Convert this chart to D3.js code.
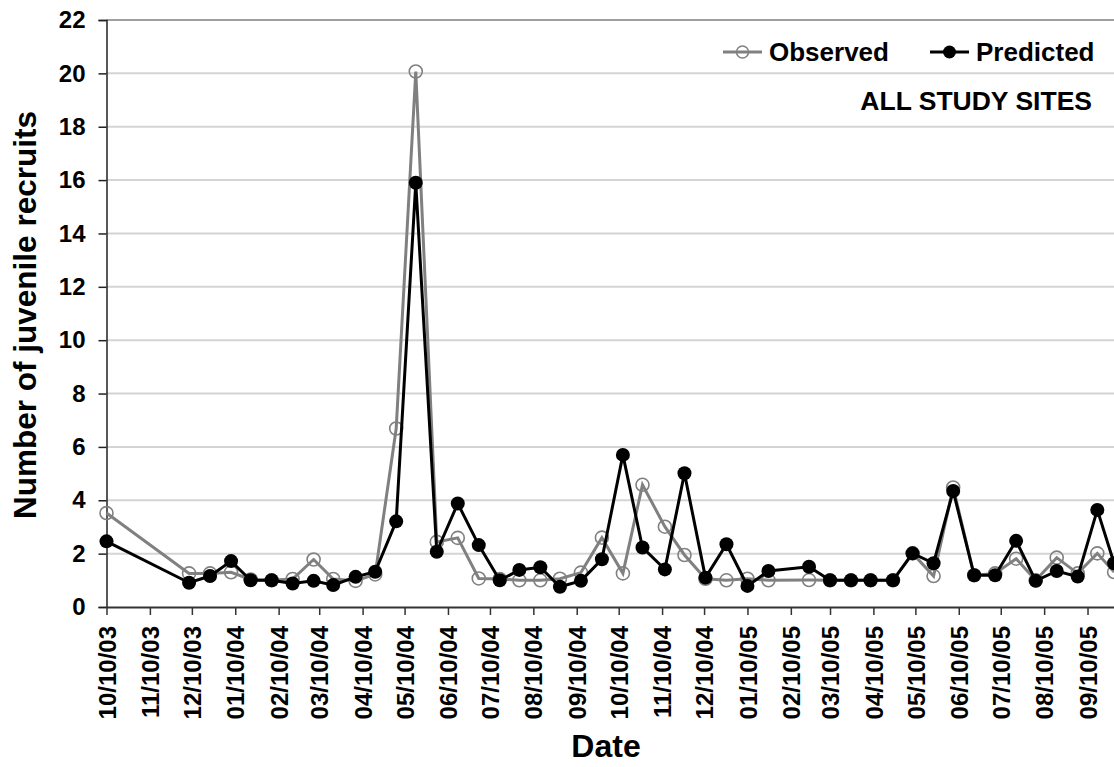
<!DOCTYPE html>
<html>
<head>
<meta charset="utf-8">
<script src="https://cdn.jsdelivr.net/npm/d3@7"></script>
<style>
  html, body { margin: 0; padding: 0; background: #fff; }
  svg { display: block; font-family: "Liberation Sans", Arial, sans-serif; }
</style>
</head>
<body>
<svg id="chart" width="1114" height="767"></svg>
<script>
// Sampling dates (m/d/y) and recruit counts for all study sites
const sampleDates = [
  "10/10/03", "12/08/03", "12/23/03", "01/07/04", "01/21/04", "02/05/04",
  "02/20/04", "03/06/04", "03/20/04", "04/05/04", "04/19/04", "05/04/04",
  "05/18/04", "06/02/04", "06/17/04", "07/02/04", "07/17/04", "07/31/04",
  "08/15/04", "08/29/04", "09/13/04", "09/28/04", "10/13/04", "10/27/04",
  "11/12/04", "11/26/04", "12/11/04", "12/26/04", "01/10/05", "01/25/05",
  "02/23/05", "03/10/05", "03/25/05", "04/08/05", "04/24/05", "05/08/05",
  "05/23/05", "06/06/05", "06/21/05", "07/06/05", "07/21/05", "08/04/05",
  "08/19/05", "09/03/05", "09/17/05", "09/29/05"
];
const observed = [
  3.52, 1.26, 1.26, 1.30, 1.03, 1.00,
  1.05, 1.78, 1.05, 0.98, 1.22, 6.69,
  20.07, 2.44, 2.59, 1.07, 1.05, 1.00,
  1.00, 1.06, 1.29, 2.60, 1.26, 4.58,
  3.01, 1.95, 1.06, 1.00, 1.06, 1.00,
  1.01, 1.00, 1.00, 1.00, 1.00, 2.01,
  1.16, 4.48, 1.19, 1.26, 1.81, 1.00,
  1.85, 1.26, 2.01, 1.31
];
const predicted = [
  2.46, 0.91, 1.16, 1.72, 1.00, 1.00,
  0.88, 0.98, 0.82, 1.13, 1.32, 3.21,
  15.90, 2.07, 3.88, 2.32, 1.00, 1.39,
  1.49, 0.76, 0.98, 1.79, 5.70, 2.23,
  1.41, 5.01, 1.10, 2.35, 0.79, 1.35,
  1.51, 1.00, 1.00, 1.00, 1.00, 2.01,
  1.64, 4.35, 1.19, 1.19, 2.48, 0.98,
  1.35, 1.14, 3.64, 1.64
];
const xTickLabels = [
  "10/10/03", "11/10/03", "12/10/03", "01/10/04", "02/10/04", "03/10/04",
  "04/10/04", "05/10/04", "06/10/04", "07/10/04", "08/10/04", "09/10/04",
  "10/10/04", "11/10/04", "12/10/04", "01/10/05", "02/10/05", "03/10/05",
  "04/10/05", "05/10/05", "06/10/05", "07/10/05", "08/10/05", "09/10/05"
];
const yTicks = [0, 2, 4, 6, 8, 10, 12, 14, 16, 18, 20, 22];
const seriesNames = ["Observed", "Predicted"];

(function drawChart() {
  const parse = d3.timeParse("%m/%d/%y");
  const fmt = d3.timeFormat("%m/%d/%y");
  const svg = d3.select("#chart");

  const plotLeft = 106.5, plotTop = 20, plotBottom = 607;
  const x = d3.scaleTime()
    .domain([parse("10/10/03"), parse("10/10/05")])
    .range([plotLeft, 1129.5]);
  const y = d3.scaleLinear().domain([0, 22]).range([plotBottom, plotTop]);

  // Horizontal gridlines
  svg.append("g").selectAll("line")
    .data(yTicks.filter(v => v > 0))
    .join("line")
    .attr("x1", plotLeft).attr("x2", 1114)
    .attr("y1", d => y(d)).attr("y2", d => y(d))
    .attr("stroke", d => d === 22 ? "#a0a0a0" : "#d4d4d4")
    .attr("stroke-width", 2);

  // Y axis
  const yAxis = svg.append("g")
    .attr("transform", `translate(${plotLeft},0)`)
    .call(d3.axisLeft(y).tickValues(yTicks).tickSize(8).tickPadding(13));
  yAxis.select(".domain").attr("stroke", "#222").attr("stroke-width", 1.5);
  yAxis.selectAll(".tick line").attr("stroke", "#222").attr("stroke-width", 1.5);
  yAxis.selectAll(".tick text")
    .attr("font-size", 24).attr("font-weight", "bold").attr("fill", "#000")
    .attr("font-family", "Liberation Sans, Arial, sans-serif");

  // X axis with monthly ticks on the 10th
  const xAxis = svg.append("g")
    .attr("transform", `translate(0,${plotBottom})`)
    .call(d3.axisBottom(x).tickValues(xTickLabels.map(parse)).tickFormat(fmt)
      .tickSize(8).tickSizeOuter(0));
  xAxis.select(".domain").attr("stroke", "#333").attr("stroke-width", 2);
  xAxis.selectAll(".tick line").attr("stroke", "#333").attr("stroke-width", 1.5);
  xAxis.selectAll(".tick text")
    .attr("font-size", 24).attr("font-weight", "bold").attr("fill", "#000")
    .attr("font-family", "Liberation Sans, Arial, sans-serif")
    .attr("text-anchor", "end")
    .attr("transform", "rotate(-90)")
    .attr("x", -19).attr("y", 0).attr("dy", "0.36em");

  // Axis titles
  svg.append("text")
    .attr("transform", "translate(36,315) rotate(-90)")
    .attr("text-anchor", "middle")
    .attr("font-size", 31.5).attr("font-weight", "bold")
    .text("Number of juvenile recruits");
  svg.append("text")
    .attr("x", 606).attr("y", 757)
    .attr("text-anchor", "middle")
    .attr("font-size", 32).attr("font-weight", "bold")
    .text("Date");

  // Series
  const dates = sampleDates.map(parse);
  const obsPts = dates.map((d, i) => [d, observed[i]]);
  const predPts = dates.map((d, i) => [d, predicted[i]]);
  const line = d3.line().x(d => x(d[0])).y(d => y(d[1]));

  const plot = svg.append("g");
  plot.append("path").datum(obsPts)
    .attr("d", line).attr("fill", "none")
    .attr("stroke", "#808080").attr("stroke-width", 3);
  plot.append("g").selectAll("circle").data(obsPts).join("circle")
    .attr("cx", d => x(d[0])).attr("cy", d => y(d[1])).attr("r", 6.5)
    .attr("fill", "none").attr("stroke", "#808080").attr("stroke-width", 1.6);

  plot.append("path").datum(predPts)
    .attr("d", line).attr("fill", "none")
    .attr("stroke", "#000").attr("stroke-width", 3);
  plot.append("g").selectAll("circle").data(predPts).join("circle")
    .attr("cx", d => x(d[0])).attr("cy", d => y(d[1])).attr("r", 7)
    .attr("fill", "#000");

  // Legend
  const legend = svg.append("g");
  const legendItems = [
    { name: seriesNames[0], x0: 723, color: "#808080", open: true },
    { name: seriesNames[1], x0: 930, color: "#000", open: false }
  ];
  legendItems.forEach(it => {
    const g = legend.append("g").attr("transform", `translate(${it.x0},52)`);
    g.append("line").attr("x1", 0).attr("x2", 39).attr("y1", 0).attr("y2", 0)
      .attr("stroke", it.color).attr("stroke-width", 3);
    g.append("circle").attr("cx", 19.5).attr("cy", 0).attr("r", it.open ? 6 : 6.5)
      .attr("fill", it.open ? "none" : "#000")
      .attr("stroke", it.color).attr("stroke-width", it.open ? 1.5 : 0);
    g.append("text").attr("x", 46).attr("y", 0).attr("dy", "0.36em")
      .attr("font-size", 26).attr("font-weight", "bold").text(it.name);
  });

  svg.append("text")
    .attr("x", 1092).attr("y", 110)
    .attr("text-anchor", "end")
    .attr("font-size", 26.5).attr("font-weight", "bold")
    .text("ALL STUDY SITES");
})();
</script>
</body>
</html>
